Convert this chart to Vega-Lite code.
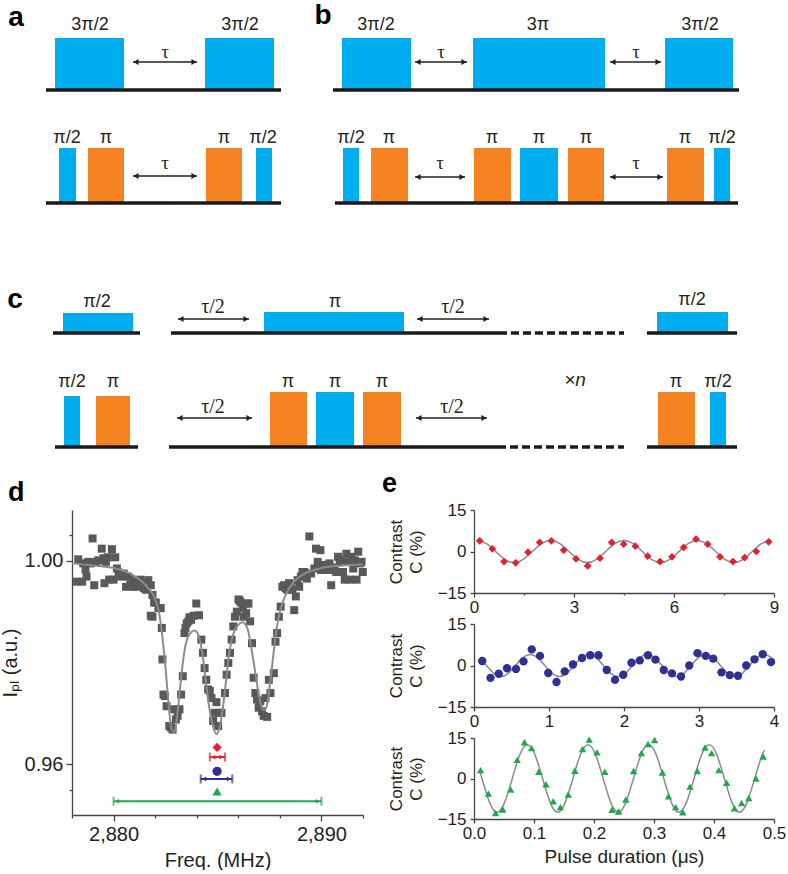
{
"$schema": "https://vega.github.io/schema/vega-lite/v6.json",
"padding": 0,
"background": "white",
"spacing": 0,
"resolve": {"scale": {"color": "independent", "shape": "independent", "strokeDash": "independent"}},
"config": {
  "view": {"stroke": null},
  "font": "Liberation Sans",
  "axis": {"grid": false, "domainColor": "#444444", "tickColor": "#444444", "labelColor": "#231f20", "titleColor": "#231f20", "titleFontWeight": "normal", "domainWidth": 1.3, "tickWidth": 1.3, "labelFont": "Liberation Sans", "titleFont": "Liberation Sans", "labelFlush": false, "labelOverlap": false, "labelBound": false},
  "title": {"fontWeight": "bold", "fontSize": 27, "anchor": "start", "frame": "group", "font": "Liberation Sans", "color": "#000000"}
},
"datasets": {
  "pulses": [
    {"t0": 5.5, "t1": 12.4, "l0": 38.0, "l1": 43.2, "k": "mw"},
    {"t0": 20.5, "t1": 27.4, "l0": 38.0, "l1": 43.2, "k": "mw"},
    {"t0": 5.9, "t1": 7.6, "l0": 26.7, "l1": 32.2, "k": "mw"},
    {"t0": 8.8, "t1": 12.4, "l0": 26.7, "l1": 32.2, "k": "rf"},
    {"t0": 20.6, "t1": 24.2, "l0": 26.7, "l1": 32.2, "k": "rf"},
    {"t0": 25.6, "t1": 27.2, "l0": 26.7, "l1": 32.2, "k": "mw"},
    {"t0": 34.2, "t1": 41.1, "l0": 38.0, "l1": 43.2, "k": "mw"},
    {"t0": 47.3, "t1": 60.5, "l0": 38.0, "l1": 43.2, "k": "mw"},
    {"t0": 66.5, "t1": 73.3, "l0": 38.0, "l1": 43.2, "k": "mw"},
    {"t0": 34.3, "t1": 35.9, "l0": 26.7, "l1": 32.2, "k": "mw"},
    {"t0": 37.1, "t1": 40.8, "l0": 26.7, "l1": 32.2, "k": "rf"},
    {"t0": 47.4, "t1": 51.1, "l0": 26.7, "l1": 32.2, "k": "rf"},
    {"t0": 52.0, "t1": 55.8, "l0": 26.7, "l1": 32.2, "k": "mw"},
    {"t0": 56.8, "t1": 60.4, "l0": 26.7, "l1": 32.2, "k": "rf"},
    {"t0": 66.7, "t1": 70.4, "l0": 26.7, "l1": 32.2, "k": "rf"},
    {"t0": 71.4, "t1": 73.0, "l0": 26.7, "l1": 32.2, "k": "mw"},
    {"t0": 6.3, "t1": 13.3, "l0": 13.7, "l1": 15.7, "k": "mw"},
    {"t0": 26.4, "t1": 40.4, "l0": 13.7, "l1": 15.8, "k": "mw"},
    {"t0": 65.7, "t1": 72.8, "l0": 13.7, "l1": 15.8, "k": "mw"},
    {"t0": 6.4, "t1": 8.0, "l0": 2.3, "l1": 7.4, "k": "mw"},
    {"t0": 9.6, "t1": 13.0, "l0": 2.3, "l1": 7.4, "k": "rf"},
    {"t0": 27.0, "t1": 30.7, "l0": 2.3, "l1": 7.8, "k": "rf"},
    {"t0": 31.6, "t1": 35.4, "l0": 2.3, "l1": 7.8, "k": "mw"},
    {"t0": 36.3, "t1": 40.1, "l0": 2.3, "l1": 7.8, "k": "rf"},
    {"t0": 65.8, "t1": 69.5, "l0": 2.3, "l1": 7.8, "k": "rf"},
    {"t0": 71.0, "t1": 72.6, "l0": 2.3, "l1": 7.8, "k": "mw"}
  ],
  "baselines": [
    {"t0": 4.6, "t1": 28.1, "l": 38.0, "s": "solid"},
    {"t0": 4.6, "t1": 28.1, "l": 26.7, "s": "solid"},
    {"t0": 33.3, "t1": 73.9, "l": 38.0, "s": "solid"},
    {"t0": 33.5, "t1": 73.8, "l": 26.7, "s": "solid"},
    {"t0": 5.3, "t1": 14.0, "l": 13.7, "s": "solid"},
    {"t0": 17.1, "t1": 50.7, "l": 13.7, "s": "solid"},
    {"t0": 51.1, "t1": 62.4, "l": 13.7, "s": "dash"},
    {"t0": 64.7, "t1": 73.7, "l": 13.7, "s": "solid"},
    {"t0": 5.5, "t1": 13.8, "l": 2.3, "s": "solid"},
    {"t0": 16.9, "t1": 50.6, "l": 2.3, "s": "solid"},
    {"t0": 51.0, "t1": 62.4, "l": 2.3, "s": "dash"},
    {"t0": 64.7, "t1": 73.7, "l": 2.3, "s": "solid"}
  ],
  "arrows": [
    {"t0": 13.3, "t1": 19.7, "l": 40.8},
    {"t0": 13.3, "t1": 19.7, "l": 29.4},
    {"t0": 41.5, "t1": 46.7, "l": 40.8},
    {"t0": 61.0, "t1": 66.1, "l": 40.8},
    {"t0": 41.5, "t1": 46.5, "l": 29.3},
    {"t0": 61.0, "t1": 66.3, "l": 29.3},
    {"t0": 17.8, "t1": 24.9, "l": 15.1},
    {"t0": 41.7, "t1": 48.9, "l": 15.1},
    {"t0": 17.7, "t1": 25.2, "l": 5.2},
    {"t0": 41.6, "t1": 48.7, "l": 5.2}
  ],
  "labels": [
    {"t": 9.0, "l": 44.5, "txt": "3π/2", "s": "sans"},
    {"t": 24.0, "l": 44.5, "txt": "3π/2", "s": "sans"},
    {"t": 37.6, "l": 44.5, "txt": "3π/2", "s": "sans"},
    {"t": 53.8, "l": 44.5, "txt": "3π", "s": "sans"},
    {"t": 70.0, "l": 44.5, "txt": "3π/2", "s": "sans"},
    {"t": 6.7, "l": 33.2, "txt": "π/2", "s": "sans"},
    {"t": 10.6, "l": 33.2, "txt": "π", "s": "sans"},
    {"t": 22.4, "l": 33.2, "txt": "π", "s": "sans"},
    {"t": 26.3, "l": 33.2, "txt": "π/2", "s": "sans"},
    {"t": 35.1, "l": 33.2, "txt": "π/2", "s": "sans"},
    {"t": 38.9, "l": 33.2, "txt": "π", "s": "sans"},
    {"t": 49.2, "l": 33.2, "txt": "π", "s": "sans"},
    {"t": 53.9, "l": 33.2, "txt": "π", "s": "sans"},
    {"t": 58.6, "l": 33.2, "txt": "π", "s": "sans"},
    {"t": 68.5, "l": 33.2, "txt": "π", "s": "sans"},
    {"t": 72.2, "l": 33.2, "txt": "π/2", "s": "sans"},
    {"t": 9.7, "l": 16.8, "txt": "π/2", "s": "sans"},
    {"t": 33.5, "l": 16.8, "txt": "π", "s": "sans"},
    {"t": 69.2, "l": 17.0, "txt": "π/2", "s": "sans"},
    {"t": 7.2, "l": 8.8, "txt": "π/2", "s": "sans"},
    {"t": 11.3, "l": 8.8, "txt": "π", "s": "sans"},
    {"t": 28.8, "l": 8.8, "txt": "π", "s": "sans"},
    {"t": 33.5, "l": 8.8, "txt": "π", "s": "sans"},
    {"t": 38.2, "l": 8.8, "txt": "π", "s": "sans"},
    {"t": 67.6, "l": 8.8, "txt": "π", "s": "sans"},
    {"t": 71.8, "l": 8.8, "txt": "π/2", "s": "sans"},
    {"t": 57.5, "l": 9.0, "txt": "×n", "s": "xn"},
    {"t": 16.5, "l": 41.8, "txt": "τ", "s": "tau"},
    {"t": 16.5, "l": 30.7, "txt": "τ", "s": "tau"},
    {"t": 44.1, "l": 41.8, "txt": "τ", "s": "tau"},
    {"t": 63.6, "l": 41.8, "txt": "τ", "s": "tau"},
    {"t": 44.0, "l": 30.7, "txt": "τ", "s": "tau"},
    {"t": 63.6, "l": 30.7, "txt": "τ", "s": "tau"},
    {"t": 21.3, "l": 16.3, "txt": "τ/2", "s": "tau2"},
    {"t": 45.3, "l": 16.3, "txt": "τ/2", "s": "tau2"},
    {"t": 21.3, "l": 6.3, "txt": "τ/2", "s": "tau2"},
    {"t": 45.2, "l": 6.3, "txt": "τ/2", "s": "tau2"},
    {"t": 1.6, "l": 45.2, "txt": "a", "s": "letter"},
    {"t": 32.3, "l": 45.4, "txt": "b", "s": "letter"},
    {"t": 1.5, "l": 17.0, "txt": "c", "s": "letter"}
  ],
  "spectrum": [
    {"f": 2878.23, "I": 0.9959}, {"f": 2878.30, "I": 1.0003}, {"f": 2878.49, "I": 0.9959}, {"f": 2878.54, "I": 0.9995},
    {"f": 2878.65, "I": 0.9983}, {"f": 2878.70, "I": 0.9969}, {"f": 2878.78, "I": 0.9998}, {"f": 2878.91, "I": 0.9995},
    {"f": 2878.99, "I": 1.0044}, {"f": 2879.07, "I": 0.9952}, {"f": 2879.16, "I": 0.9998}, {"f": 2879.27, "I": 1.0001},
    {"f": 2879.43, "I": 1.0024}, {"f": 2879.51, "I": 1.0005}, {"f": 2879.56, "I": 0.9956}, {"f": 2879.63, "I": 0.9998},
    {"f": 2879.72, "I": 1.0007}, {"f": 2879.79, "I": 0.9963}, {"f": 2879.92, "I": 1.0023}, {"f": 2880.00, "I": 0.9963},
    {"f": 2880.08, "I": 1.0007}, {"f": 2880.16, "I": 0.9985}, {"f": 2880.24, "I": 0.9977}, {"f": 2880.37, "I": 0.9969},
    {"f": 2880.49, "I": 0.9975}, {"f": 2880.60, "I": 0.9949}, {"f": 2880.70, "I": 0.9969}, {"f": 2880.81, "I": 0.9962},
    {"f": 2880.89, "I": 0.9950}, {"f": 2880.97, "I": 0.9949}, {"f": 2881.06, "I": 0.9959}, {"f": 2881.14, "I": 0.9949},
    {"f": 2881.30, "I": 0.9963}, {"f": 2881.38, "I": 0.9956}, {"f": 2881.46, "I": 0.9946}, {"f": 2881.57, "I": 0.9943},
    {"f": 2881.67, "I": 0.9962}, {"f": 2881.79, "I": 0.9952}, {"f": 2881.87, "I": 0.9933}, {"f": 2881.95, "I": 0.9918},
    {"f": 2882.03, "I": 0.9918}, {"f": 2882.16, "I": 0.9907}, {"f": 2882.27, "I": 0.9907}, {"f": 2881.79, "I": 0.9892},
    {"f": 2881.87, "I": 0.9890}, {"f": 2882.32, "I": 0.9868}, {"f": 2882.35, "I": 0.9806}, {"f": 2882.40, "I": 0.9737},
    {"f": 2882.47, "I": 0.9734}, {"f": 2882.55, "I": 0.9714}, {"f": 2882.68, "I": 0.9675}, {"f": 2882.76, "I": 0.9672},
    {"f": 2882.84, "I": 0.9668}, {"f": 2882.92, "I": 0.9708}, {"f": 2883.00, "I": 0.9688}, {"f": 2883.08, "I": 0.9695},
    {"f": 2883.17, "I": 0.9708}, {"f": 2883.25, "I": 0.9737}, {"f": 2883.33, "I": 0.9773}, {"f": 2883.41, "I": 0.9858},
    {"f": 2883.46, "I": 0.9868}, {"f": 2883.52, "I": 0.9877}, {"f": 2883.60, "I": 0.9881}, {"f": 2883.65, "I": 0.9889},
    {"f": 2883.73, "I": 0.9884}, {"f": 2883.85, "I": 0.9892}, {"f": 2883.98, "I": 0.9916}, {"f": 2884.11, "I": 0.9893},
    {"f": 2884.22, "I": 0.9845}, {"f": 2884.30, "I": 0.9819}, {"f": 2884.38, "I": 0.9789}, {"f": 2884.46, "I": 0.9766},
    {"f": 2884.55, "I": 0.9747}, {"f": 2884.63, "I": 0.9744}, {"f": 2884.71, "I": 0.9730}, {"f": 2884.79, "I": 0.9685},
    {"f": 2884.87, "I": 0.9701}, {"f": 2884.95, "I": 0.9722}, {"f": 2885.03, "I": 0.9675}, {"f": 2885.11, "I": 0.9701},
    {"f": 2885.19, "I": 0.9701}, {"f": 2885.36, "I": 0.9740}, {"f": 2885.44, "I": 0.9776}, {"f": 2885.52, "I": 0.9799},
    {"f": 2885.60, "I": 0.9819}, {"f": 2885.68, "I": 0.9845}, {"f": 2885.76, "I": 0.9871}, {"f": 2885.84, "I": 0.9890},
    {"f": 2885.93, "I": 0.9900}, {"f": 2886.01, "I": 0.9924}, {"f": 2886.06, "I": 0.9922}, {"f": 2886.12, "I": 0.9918},
    {"f": 2886.22, "I": 0.9907}, {"f": 2886.25, "I": 0.9890}, {"f": 2886.38, "I": 0.9897}, {"f": 2886.41, "I": 0.9916},
    {"f": 2886.49, "I": 0.9916}, {"f": 2886.57, "I": 0.9881}, {"f": 2886.66, "I": 0.9838}, {"f": 2886.74, "I": 0.9770},
    {"f": 2886.82, "I": 0.9740}, {"f": 2886.90, "I": 0.9727}, {"f": 2886.98, "I": 0.9711}, {"f": 2887.06, "I": 0.9724},
    {"f": 2887.14, "I": 0.9704}, {"f": 2887.22, "I": 0.9695}, {"f": 2887.31, "I": 0.9730}, {"f": 2887.39, "I": 0.9693},
    {"f": 2887.47, "I": 0.9766}, {"f": 2887.55, "I": 0.9740}, {"f": 2887.71, "I": 0.9779}, {"f": 2887.79, "I": 0.9841},
    {"f": 2887.87, "I": 0.9858}, {"f": 2887.95, "I": 0.9890}, {"f": 2888.04, "I": 0.9910}, {"f": 2888.12, "I": 0.9949},
    {"f": 2888.20, "I": 0.9952}, {"f": 2888.28, "I": 0.9946}, {"f": 2888.36, "I": 0.9943}, {"f": 2888.44, "I": 0.9956},
    {"f": 2888.52, "I": 0.9949}, {"f": 2888.60, "I": 0.9943}, {"f": 2888.69, "I": 0.9903}, {"f": 2888.77, "I": 0.9930},
    {"f": 2888.85, "I": 0.9962}, {"f": 2888.93, "I": 0.9949}, {"f": 2889.01, "I": 0.9969}, {"f": 2889.09, "I": 0.9978},
    {"f": 2889.17, "I": 0.9978}, {"f": 2889.30, "I": 0.9965}, {"f": 2889.42, "I": 1.0048}, {"f": 2889.50, "I": 0.9975},
    {"f": 2889.66, "I": 0.9985}, {"f": 2889.74, "I": 1.0024}, {"f": 2889.82, "I": 0.9998}, {"f": 2889.95, "I": 1.0021},
    {"f": 2889.98, "I": 0.9982}, {"f": 2890.06, "I": 0.9992}, {"f": 2890.15, "I": 0.9983}, {"f": 2890.23, "I": 0.9982},
    {"f": 2890.31, "I": 0.9992}, {"f": 2890.39, "I": 0.9995}, {"f": 2890.47, "I": 0.9952}, {"f": 2890.55, "I": 0.9982},
    {"f": 2890.63, "I": 0.9987}, {"f": 2890.71, "I": 0.9978}, {"f": 2890.80, "I": 1.0008}, {"f": 2890.88, "I": 0.9998},
    {"f": 2890.96, "I": 1.0001}, {"f": 2891.04, "I": 0.9978}, {"f": 2891.12, "I": 0.9963}, {"f": 2891.20, "I": 1.0014},
    {"f": 2891.28, "I": 0.9998}, {"f": 2891.36, "I": 0.9963}, {"f": 2891.44, "I": 1.0008}, {"f": 2891.53, "I": 0.9985},
    {"f": 2891.61, "I": 1.0001}, {"f": 2891.69, "I": 0.9963}, {"f": 2891.77, "I": 1.0018}, {"f": 2891.85, "I": 0.9995},
    {"f": 2891.93, "I": 0.9998}, {"f": 2891.99, "I": 0.9978}
  ],
  "spectrum_fit": [
    {"f": 2878.0, "I": 0.9995}, {"f": 2879.0, "I": 0.9991}, {"f": 2880.0, "I": 0.9986}, {"f": 2880.8, "I": 0.9975},
    {"f": 2881.3, "I": 0.9962}, {"f": 2881.7, "I": 0.9945}, {"f": 2882.0, "I": 0.9925}, {"f": 2882.2, "I": 0.9895},
    {"f": 2882.35, "I": 0.985}, {"f": 2882.5, "I": 0.979}, {"f": 2882.6, "I": 0.974}, {"f": 2882.7, "I": 0.9695},
    {"f": 2882.8, "I": 0.9668}, {"f": 2882.9, "I": 0.9663}, {"f": 2883.0, "I": 0.9675}, {"f": 2883.1, "I": 0.971},
    {"f": 2883.25, "I": 0.977}, {"f": 2883.4, "I": 0.982}, {"f": 2883.6, "I": 0.9852}, {"f": 2883.9, "I": 0.9863},
    {"f": 2884.1, "I": 0.9852}, {"f": 2884.3, "I": 0.981}, {"f": 2884.45, "I": 0.976}, {"f": 2884.6, "I": 0.9712},
    {"f": 2884.75, "I": 0.968}, {"f": 2884.95, "I": 0.9659}, {"f": 2885.1, "I": 0.9672}, {"f": 2885.25, "I": 0.9708},
    {"f": 2885.4, "I": 0.976}, {"f": 2885.55, "I": 0.9815}, {"f": 2885.75, "I": 0.9855}, {"f": 2886.0, "I": 0.9874},
    {"f": 2886.2, "I": 0.9879}, {"f": 2886.45, "I": 0.9866}, {"f": 2886.6, "I": 0.9835}, {"f": 2886.8, "I": 0.9785},
    {"f": 2886.95, "I": 0.9745}, {"f": 2887.1, "I": 0.9716}, {"f": 2887.25, "I": 0.9706}, {"f": 2887.4, "I": 0.972},
    {"f": 2887.55, "I": 0.9765}, {"f": 2887.7, "I": 0.982}, {"f": 2887.85, "I": 0.9868}, {"f": 2888.0, "I": 0.99},
    {"f": 2888.3, "I": 0.9935}, {"f": 2888.7, "I": 0.996}, {"f": 2889.2, "I": 0.9975}, {"f": 2890.0, "I": 0.9986},
    {"f": 2891.0, "I": 0.9991}, {"f": 2892.0, "I": 0.9993}
  ],
  "markers": [
    {"m": "r", "f": 2884.98, "ym": 0.9633, "yb": 0.9614, "lo": 2884.63, "hi": 2885.36},
    {"m": "b", "f": 2884.98, "ym": 0.9586, "yb": 0.9571, "lo": 2884.19, "hi": 2885.71},
    {"m": "g", "f": 2884.98, "ym": 0.9546, "yb": 0.9527, "lo": 2880.0, "hi": 2890.0}
  ],
  "e1": [
    {"t": 0.17, "C": 3.87}, {"t": 0.55, "C": 0.97}, {"t": 0.90, "C": -3.63}, {"t": 1.25, "C": -4.11}, {"t": 1.62, "C": -0.24},
    {"t": 1.97, "C": 3.26}, {"t": 2.32, "C": 3.87}, {"t": 2.69, "C": 0.48}, {"t": 3.06, "C": -2.66}, {"t": 3.41, "C": -5.2},
    {"t": 3.78, "C": -2.42}, {"t": 4.13, "C": 3.26}, {"t": 4.49, "C": 2.66}, {"t": 4.84, "C": 1.93}, {"t": 5.21, "C": -1.69},
    {"t": 5.58, "C": -3.63}, {"t": 5.94, "C": -1.93}, {"t": 6.29, "C": 1.45}, {"t": 6.66, "C": 4.47}, {"t": 7.01, "C": 2.66},
    {"t": 7.38, "C": -1.93}, {"t": 7.77, "C": -3.63}, {"t": 8.12, "C": -2.18}, {"t": 8.47, "C": 0.0}, {"t": 8.84, "C": 3.51}
  ],
  "e1_fit": [
    {"t": 0.1, "C": 4}, {"t": 0.375, "C": 2.83}, {"t": 0.65, "C": 0}, {"t": 0.925, "C": -2.83}, {"t": 1.2, "C": -4},
    {"t": 1.475, "C": -2.83}, {"t": 1.75, "C": 0}, {"t": 2.025, "C": 2.83}, {"t": 2.3, "C": 4}, {"t": 2.575, "C": 2.83},
    {"t": 2.85, "C": 0}, {"t": 3.125, "C": -2.83}, {"t": 3.4, "C": -4}, {"t": 3.675, "C": -2.83}, {"t": 3.95, "C": 0},
    {"t": 4.225, "C": 2.83}, {"t": 4.5, "C": 4}, {"t": 4.775, "C": 2.83}, {"t": 5.05, "C": 0}, {"t": 5.325, "C": -2.83},
    {"t": 5.6, "C": -4}, {"t": 5.875, "C": -2.83}, {"t": 6.15, "C": 0}, {"t": 6.425, "C": 2.83}, {"t": 6.7, "C": 4},
    {"t": 6.975, "C": 2.83}, {"t": 7.25, "C": 0}, {"t": 7.525, "C": -2.83}, {"t": 7.8, "C": -4}, {"t": 8.075, "C": -2.83},
    {"t": 8.35, "C": 0}, {"t": 8.625, "C": 2.83}, {"t": 8.9, "C": 4}
  ],
  "e2": [
    {"t": 0.11, "C": 1.61}, {"t": 0.22, "C": -4.46}, {"t": 0.33, "C": -2.97}, {"t": 0.44, "C": -0.99}, {"t": 0.56, "C": -1.24},
    {"t": 0.66, "C": 1.49}, {"t": 0.77, "C": 5.82}, {"t": 0.88, "C": 3.47}, {"t": 0.99, "C": -2.73}, {"t": 1.10, "C": -5.95},
    {"t": 1.21, "C": -2.11}, {"t": 1.32, "C": 0.37}, {"t": 1.44, "C": 2.73}, {"t": 1.55, "C": 3.72}, {"t": 1.66, "C": 3.72},
    {"t": 1.77, "C": -1.61}, {"t": 1.88, "C": -5.2}, {"t": 1.99, "C": -3.35}, {"t": 2.10, "C": 0.99}, {"t": 2.21, "C": 1.86},
    {"t": 2.32, "C": 3.72}, {"t": 2.42, "C": 2.11}, {"t": 2.53, "C": -1.61}, {"t": 2.64, "C": -2.85}, {"t": 2.76, "C": -3.97},
    {"t": 2.87, "C": 0.0}, {"t": 2.98, "C": 4.46}, {"t": 3.09, "C": 3.47}, {"t": 3.19, "C": 2.48}, {"t": 3.30, "C": -2.48},
    {"t": 3.41, "C": -3.47}, {"t": 3.52, "C": -3.72}, {"t": 3.63, "C": 0.0}, {"t": 3.74, "C": 2.23}, {"t": 3.85, "C": 4.09},
    {"t": 3.96, "C": 1.24}
  ],
  "e2_fit": [
    {"t": 0.1, "C": 2.0}, {"t": 0.165, "C": 0}, {"t": 0.2625, "C": -2.83}, {"t": 0.36, "C": -4}, {"t": 0.4575, "C": -2.83},
    {"t": 0.555, "C": 0}, {"t": 0.6525, "C": 2.83}, {"t": 0.75, "C": 4}, {"t": 0.8475, "C": 2.83}, {"t": 0.945, "C": 0},
    {"t": 1.0425, "C": -2.83}, {"t": 1.14, "C": -4}, {"t": 1.2375, "C": -2.83}, {"t": 1.335, "C": 0}, {"t": 1.4325, "C": 2.83},
    {"t": 1.53, "C": 4}, {"t": 1.6275, "C": 2.83}, {"t": 1.725, "C": 0}, {"t": 1.8225, "C": -2.83}, {"t": 1.92, "C": -4},
    {"t": 2.0175, "C": -2.83}, {"t": 2.115, "C": 0}, {"t": 2.2125, "C": 2.83}, {"t": 2.31, "C": 4}, {"t": 2.4075, "C": 2.83},
    {"t": 2.505, "C": 0}, {"t": 2.6025, "C": -2.83}, {"t": 2.7, "C": -4}, {"t": 2.7975, "C": -2.83}, {"t": 2.895, "C": 0},
    {"t": 2.9925, "C": 2.83}, {"t": 3.09, "C": 4}, {"t": 3.1875, "C": 2.83}, {"t": 3.285, "C": 0}, {"t": 3.3825, "C": -2.83},
    {"t": 3.48, "C": -4}, {"t": 3.5775, "C": -2.83}, {"t": 3.675, "C": 0}, {"t": 3.7725, "C": 2.83}, {"t": 3.87, "C": 4},
    {"t": 3.9675, "C": 2.83}, {"t": 4.0, "C": 2.0}
  ],
  "e3": [
    {"t": 0.011, "C": 3.1}, {"t": 0.024, "C": -5.6}, {"t": 0.036, "C": -12.75}, {"t": 0.048, "C": -11.5}, {"t": 0.061, "C": -4.1},
    {"t": 0.072, "C": 6.9}, {"t": 0.084, "C": 13.4}, {"t": 0.096, "C": 11.25}, {"t": 0.108, "C": 2.5}, {"t": 0.120, "C": -2.1},
    {"t": 0.132, "C": -8.4}, {"t": 0.144, "C": -10.6}, {"t": 0.157, "C": -5.9}, {"t": 0.168, "C": 2.9}, {"t": 0.181, "C": 10.9},
    {"t": 0.192, "C": 14.4}, {"t": 0.205, "C": 9.75}, {"t": 0.218, "C": 2.5}, {"t": 0.230, "C": -11.6}, {"t": 0.241, "C": -12.25},
    {"t": 0.253, "C": -7.75}, {"t": 0.266, "C": 2.75}, {"t": 0.279, "C": 9.4}, {"t": 0.290, "C": 12.75}, {"t": 0.301, "C": 14.25},
    {"t": 0.314, "C": 2.25}, {"t": 0.324, "C": -6.6}, {"t": 0.336, "C": -10.6}, {"t": 0.348, "C": -12.5}, {"t": 0.360, "C": -3.0},
    {"t": 0.372, "C": 2.75}, {"t": 0.385, "C": 11.5}, {"t": 0.396, "C": 9.4}, {"t": 0.408, "C": 3.1}, {"t": 0.421, "C": -1.6},
    {"t": 0.434, "C": -11.0}, {"t": 0.446, "C": -9.1}, {"t": 0.458, "C": -7.25}, {"t": 0.470, "C": 0.0}, {"t": 0.482, "C": 8.1}
  ],
  "e3_fit": [
    {"t": 0.01, "C": 2.5}, {"t": 0.0133, "C": 0}, {"t": 0.0259, "C": -8.84}, {"t": 0.0385, "C": -12.5}, {"t": 0.0511, "C": -8.84},
    {"t": 0.0638, "C": 0}, {"t": 0.0764, "C": 8.84}, {"t": 0.089, "C": 12.5}, {"t": 0.1016, "C": 8.84}, {"t": 0.1143, "C": 0},
    {"t": 0.1269, "C": -8.84}, {"t": 0.1395, "C": -12.5}, {"t": 0.1521, "C": -8.84}, {"t": 0.1648, "C": 0}, {"t": 0.1774, "C": 8.84},
    {"t": 0.19, "C": 12.5}, {"t": 0.2026, "C": 8.84}, {"t": 0.2153, "C": 0}, {"t": 0.2279, "C": -8.84}, {"t": 0.2405, "C": -12.5},
    {"t": 0.2531, "C": -8.84}, {"t": 0.2658, "C": 0}, {"t": 0.2784, "C": 8.84}, {"t": 0.291, "C": 12.5}, {"t": 0.3036, "C": 8.84},
    {"t": 0.3163, "C": 0}, {"t": 0.3289, "C": -8.84}, {"t": 0.3415, "C": -12.5}, {"t": 0.3541, "C": -8.84}, {"t": 0.3668, "C": 0},
    {"t": 0.3794, "C": 8.84}, {"t": 0.392, "C": 12.5}, {"t": 0.4046, "C": 8.84}, {"t": 0.4173, "C": 0}, {"t": 0.4299, "C": -8.84},
    {"t": 0.4425, "C": -12.5}, {"t": 0.4551, "C": -8.84}, {"t": 0.4678, "C": 0}, {"t": 0.4804, "C": 8.84}, {"t": 0.485, "C": 10.5}
  ]
},
"vconcat": [
  {
    "width": 716, "height": 470,
    "layer": [
      {"data": {"name": "pulses"}, "mark": {"type": "rect"},
       "encoding": {
         "x": {"field": "t0", "type": "quantitative", "scale": {"domain": [7.2, 78.8], "nice": false, "zero": false}, "axis": null},
         "x2": {"field": "t1"},
         "y": {"field": "l0", "type": "quantitative", "scale": {"domain": [0, 47], "nice": false, "zero": false}, "axis": null},
         "y2": {"field": "l1"},
         "color": {"field": "k", "type": "nominal", "scale": {"domain": ["mw", "rf"], "range": ["#00aeef", "#f58220"]}, "legend": null}
       }},
      {"data": {"name": "baselines"}, "mark": {"type": "rule", "strokeWidth": 3.5, "color": "#1a1a1a"},
       "encoding": {
         "x": {"field": "t0", "type": "quantitative"},
         "x2": {"field": "t1"},
         "y": {"field": "l", "type": "quantitative"},
         "strokeDash": {"field": "s", "type": "nominal", "scale": {"domain": ["solid", "dash"], "range": [[1, 0], [8, 4]]}, "legend": null}
       }},
      {"data": {"name": "arrows"}, "mark": {"type": "rule", "strokeWidth": 1.3, "color": "#231f20"},
       "encoding": {
         "x": {"field": "t0", "type": "quantitative"},
         "x2": {"field": "t1"},
         "y": {"field": "l", "type": "quantitative"}
       }},
      {"data": {"name": "arrows"}, "mark": {"type": "point", "shape": "triangle-left", "filled": true, "size": 35, "color": "#231f20", "opacity": 1, "xOffset": 3},
       "encoding": {"x": {"field": "t0", "type": "quantitative"}, "y": {"field": "l", "type": "quantitative"}}},
      {"data": {"name": "arrows"}, "mark": {"type": "point", "shape": "triangle-right", "filled": true, "size": 35, "color": "#231f20", "opacity": 1, "xOffset": -3},
       "encoding": {"x": {"field": "t1", "type": "quantitative"}, "y": {"field": "l", "type": "quantitative"}}},
      {"data": {"name": "labels"}, "transform": [{"filter": "datum.s === 'sans'"}],
       "mark": {"type": "text", "font": "Liberation Sans", "fontSize": 18, "color": "#231f20", "align": "center", "baseline": "middle"},
       "encoding": {"x": {"field": "t", "type": "quantitative"}, "y": {"field": "l", "type": "quantitative"}, "text": {"field": "txt"}}},
      {"data": {"name": "labels"}, "transform": [{"filter": "datum.s === 'xn'"}],
       "mark": {"type": "text", "font": "Liberation Sans", "fontSize": 19, "fontStyle": "italic", "color": "#231f20", "align": "center", "baseline": "middle"},
       "encoding": {"x": {"field": "t", "type": "quantitative"}, "y": {"field": "l", "type": "quantitative"}, "text": {"field": "txt"}}},
      {"data": {"name": "labels"}, "transform": [{"filter": "datum.s === 'tau'"}],
       "mark": {"type": "text", "font": "Liberation Serif", "fontSize": 19, "color": "#231f20", "align": "center", "baseline": "middle"},
       "encoding": {"x": {"field": "t", "type": "quantitative"}, "y": {"field": "l", "type": "quantitative"}, "text": {"field": "txt"}}},
      {"data": {"name": "labels"}, "transform": [{"filter": "datum.s === 'tau2'"}],
       "mark": {"type": "text", "font": "Liberation Serif", "fontSize": 20, "color": "#231f20", "align": "center", "baseline": "middle"},
       "encoding": {"x": {"field": "t", "type": "quantitative"}, "y": {"field": "l", "type": "quantitative"}, "text": {"field": "txt"}}},
      {"data": {"name": "labels"}, "transform": [{"filter": "datum.s === 'letter'"}],
       "mark": {"type": "text", "font": "Liberation Sans", "fontSize": 28, "fontWeight": "bold", "color": "#000000", "align": "center", "baseline": "middle"},
       "encoding": {"x": {"field": "t", "type": "quantitative"}, "y": {"field": "l", "type": "quantitative"}, "text": {"field": "txt"}}}
    ]
  },
  {
    "spacing": 15,
    "resolve": {"scale": {"color": "independent", "shape": "independent"}},
    "hconcat": [
      {
        "width": 291, "height": 305,
        "title": {"text": "d", "dx": -64, "offset": 3},
        "layer": [
          {"data": {"name": "spectrum"}, "mark": {"type": "point", "shape": "square", "filled": true, "size": 64, "color": "#595959", "opacity": 1},
           "encoding": {
             "x": {"field": "f", "type": "quantitative", "scale": {"domain": [2878, 2892], "nice": false, "zero": false},
                   "axis": {"title": "Freq. (MHz)", "values": [2878, 2879, 2880, 2881, 2882, 2883, 2884, 2885, 2886, 2887, 2888, 2889, 2890, 2891, 2892],
                            "labelExpr": "datum.value % 5 === 0 ? format(datum.value, ',') : ''",
                            "tickSize": {"condition": {"test": "datum.value % 5 === 0", "value": 6}, "value": 3},
                            "labelFontSize": 20, "titleFontSize": 20, "labelPadding": 3, "titlePadding": 6}},
             "y": {"field": "I", "type": "quantitative", "scale": {"domain": [0.95, 1.01], "nice": false, "zero": false},
                   "axis": {"title": "Iₚₗ (a.u.)", "values": [0.955, 0.96, 1.0, 1.005],
                            "labelExpr": "abs(datum.value - 0.96) < 0.000001 || abs(datum.value - 1) < 0.000001 ? format(datum.value, '.2f') : ''",
                            "tickSize": {"condition": {"test": "abs(datum.value - 0.96) < 0.000001 || abs(datum.value - 1) < 0.000001", "value": 6}, "value": 3},
                            "labelFontSize": 20, "titleFontSize": 20, "labelPadding": 3, "titlePadding": 2, "minExtent": 50, "maxExtent": 50}}
           }},
          {"data": {"name": "spectrum_fit"}, "mark": {"type": "line", "color": "#8c8c8c", "strokeWidth": 2, "interpolate": "monotone"},
           "encoding": {"x": {"field": "f", "type": "quantitative"}, "y": {"field": "I", "type": "quantitative"}}},
          {"data": {"name": "markers"}, "mark": {"type": "rule", "strokeWidth": 2},
           "encoding": {"x": {"field": "lo", "type": "quantitative"}, "x2": {"field": "hi"}, "y": {"field": "yb", "type": "quantitative"},
                        "color": {"field": "m", "type": "nominal", "scale": {"domain": ["r", "b", "g"], "range": ["#e5202e", "#2e3192", "#1ea84b"]}, "legend": null}}},
          {"data": {"name": "markers"}, "mark": {"type": "tick", "orient": "vertical", "size": 9, "thickness": 2},
           "encoding": {"x": {"field": "lo", "type": "quantitative"}, "y": {"field": "yb", "type": "quantitative"},
                        "color": {"field": "m", "type": "nominal", "legend": null}}},
          {"data": {"name": "markers"}, "mark": {"type": "tick", "orient": "vertical", "size": 9, "thickness": 2},
           "encoding": {"x": {"field": "hi", "type": "quantitative"}, "y": {"field": "yb", "type": "quantitative"},
                        "color": {"field": "m", "type": "nominal", "legend": null}}},
          {"data": {"name": "markers"}, "mark": {"type": "point", "shape": "triangle-left", "filled": true, "size": 22, "opacity": 1, "xOffset": 3.5},
           "encoding": {"x": {"field": "lo", "type": "quantitative"}, "y": {"field": "yb", "type": "quantitative"},
                        "color": {"field": "m", "type": "nominal", "legend": null}}},
          {"data": {"name": "markers"}, "mark": {"type": "point", "shape": "triangle-right", "filled": true, "size": 22, "opacity": 1, "xOffset": -3.5},
           "encoding": {"x": {"field": "hi", "type": "quantitative"}, "y": {"field": "yb", "type": "quantitative"},
                        "color": {"field": "m", "type": "nominal", "legend": null}}},
          {"data": {"name": "markers"}, "mark": {"type": "point", "filled": true, "size": 85, "opacity": 1},
           "encoding": {"x": {"field": "f", "type": "quantitative"}, "y": {"field": "ym", "type": "quantitative"},
                        "color": {"field": "m", "type": "nominal", "legend": null},
                        "shape": {"field": "m", "type": "nominal", "scale": {"domain": ["r", "b", "g"], "range": ["diamond", "circle", "triangle-up"]}, "legend": null}}}
        ]
      },
      {
        "spacing": 0,
        "vconcat": [
          {
            "width": 300, "height": 83,
            "title": {"text": "e", "dx": -92, "offset": 3},
            "layer": [
              {"data": {"name": "e1_fit"}, "mark": {"type": "line", "color": "#8c8c8c", "strokeWidth": 1.5, "interpolate": "natural"},
               "encoding": {
                 "x": {"field": "t", "type": "quantitative", "scale": {"domain": [0, 9], "nice": false, "zero": false},
                       "axis": {"title": null, "values": [0, 1.5, 3, 4.5, 6, 7.5, 9], "labelExpr": "datum.value % 3 === 0 ? format(datum.value, 'd') : ''",
                                "tickSize": {"condition": {"test": "datum.value % 3 === 0", "value": 4}, "value": 2},
                                "labelFontSize": 17, "labelPadding": 2}},
                 "y": {"field": "C", "type": "quantitative", "scale": {"domain": [-15, 15], "nice": false, "zero": false},
                       "axis": {"title": ["Contrast", "C (%)"], "values": [-15, -7.5, 0, 7.5, 15], "labelExpr": "datum.value === 0 ? '0' : (abs(datum.value) === 15 ? datum.label : '')",
                                "tickSize": {"condition": {"test": "datum.value % 15 === 0", "value": 4}, "value": 2},
                                "labelFontSize": 17, "titleFontSize": 17, "titleLineHeight": 20, "labelPadding": 4, "titlePadding": 4, "minExtent": 45, "maxExtent": 45, "labelOverlap": false}}
               }},
              {"data": {"name": "e1"}, "mark": {"type": "point", "shape": "diamond", "filled": true, "size": 60, "color": "#e5202e", "opacity": 1},
               "encoding": {"x": {"field": "t", "type": "quantitative"}, "y": {"field": "C", "type": "quantitative"}}}
            ]
          },
          {
            "width": 300, "height": 83,
            "layer": [
              {"data": {"name": "e2_fit"}, "mark": {"type": "line", "color": "#8c8c8c", "strokeWidth": 1.5, "interpolate": "natural"},
               "encoding": {
                 "x": {"field": "t", "type": "quantitative", "scale": {"domain": [0, 4], "nice": false, "zero": false},
                       "axis": {"title": null, "values": [0, 0.5, 1, 1.5, 2, 2.5, 3, 3.5, 4], "labelExpr": "datum.value % 1 === 0 ? format(datum.value, 'd') : ''",
                                "tickSize": {"condition": {"test": "datum.value % 1 === 0", "value": 4}, "value": 2},
                                "labelFontSize": 17, "labelPadding": 2}},
                 "y": {"field": "C", "type": "quantitative", "scale": {"domain": [-15, 15], "nice": false, "zero": false},
                       "axis": {"title": ["Contrast", "C (%)"], "values": [-15, -7.5, 0, 7.5, 15], "labelExpr": "datum.value === 0 ? '0' : (abs(datum.value) === 15 ? datum.label : '')",
                                "tickSize": {"condition": {"test": "datum.value % 15 === 0", "value": 4}, "value": 2},
                                "labelFontSize": 17, "titleFontSize": 17, "titleLineHeight": 20, "labelPadding": 4, "titlePadding": 4, "minExtent": 45, "maxExtent": 45, "labelOverlap": false}}
               }},
              {"data": {"name": "e2"}, "mark": {"type": "point", "shape": "circle", "filled": true, "size": 70, "color": "#2e3192", "opacity": 1},
               "encoding": {"x": {"field": "t", "type": "quantitative"}, "y": {"field": "C", "type": "quantitative"}}}
            ]
          },
          {
            "width": 300, "height": 81,
            "layer": [
              {"data": {"name": "e3_fit"}, "mark": {"type": "line", "color": "#8c8c8c", "strokeWidth": 1.5, "interpolate": "natural"},
               "encoding": {
                 "x": {"field": "t", "type": "quantitative", "scale": {"domain": [0, 0.5], "nice": false, "zero": false},
                       "axis": {"title": "Pulse duration (μs)", "values": [0, 0.05, 0.1, 0.15, 0.2, 0.25, 0.3, 0.35, 0.4, 0.45, 0.5],
                                "labelExpr": "abs(round(datum.value * 10) - datum.value * 10) < 0.000001 ? format(datum.value, '.1f') : ''",
                                "tickSize": {"condition": {"test": "abs(round(datum.value * 10) - datum.value * 10) < 0.000001", "value": 4}, "value": 2},
                                "labelFontSize": 17, "titleFontSize": 19, "labelPadding": 2, "titlePadding": 6}},
                 "y": {"field": "C", "type": "quantitative", "scale": {"domain": [-15, 15], "nice": false, "zero": false},
                       "axis": {"title": ["Contrast", "C (%)"], "values": [-15, -7.5, 0, 7.5, 15], "labelExpr": "datum.value === 0 ? '0' : (abs(datum.value) === 15 ? datum.label : '')",
                                "tickSize": {"condition": {"test": "datum.value % 15 === 0", "value": 4}, "value": 2},
                                "labelFontSize": 17, "titleFontSize": 17, "titleLineHeight": 20, "labelPadding": 4, "titlePadding": 4, "minExtent": 45, "maxExtent": 45, "labelOverlap": false}}
               }},
              {"data": {"name": "e3"}, "mark": {"type": "point", "shape": "triangle-up", "filled": true, "size": 55, "color": "#1ea84b", "opacity": 1},
               "encoding": {"x": {"field": "t", "type": "quantitative"}, "y": {"field": "C", "type": "quantitative"}}}
            ]
          }
        ]
      }
    ]
  }
]
}
